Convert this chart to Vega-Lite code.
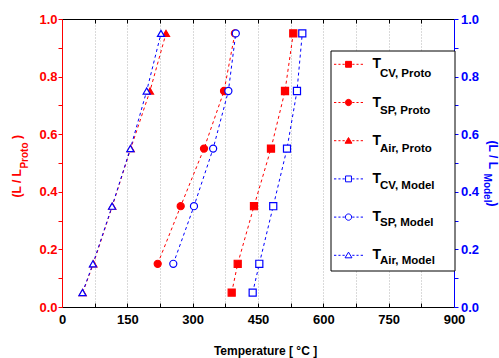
{
  "$schema": "https://vega.github.io/schema/vega-lite/v6.json",
  "width": 392,
  "height": 288,
  "autosize": {"type": "none"},
  "padding": {"left": 62, "top": 19, "right": 45, "bottom": 51},
  "background": "white",
  "config": {
    "view": {"stroke": null},
    "font": "Liberation Sans",
    "axis": {"labelFont": "Liberation Sans", "titleFont": "Liberation Sans"},
    "legend": {"labelFont": "Liberation Sans", "titleFont": "Liberation Sans"}
  },
  "data": {
    "values": [
      {"series": "CV, Proto", "ref": "Proto", "T": 389.6, "L": 0.05},
      {"series": "CV, Proto", "ref": "Proto", "T": 403.4, "L": 0.15},
      {"series": "CV, Proto", "ref": "Proto", "T": 440.8, "L": 0.35},
      {"series": "CV, Proto", "ref": "Proto", "T": 479.8, "L": 0.55},
      {"series": "CV, Proto", "ref": "Proto", "T": 512, "L": 0.75},
      {"series": "CV, Proto", "ref": "Proto", "T": 531, "L": 0.95},
      {"series": "SP, Proto", "ref": "Proto", "T": 219.7, "L": 0.15},
      {"series": "SP, Proto", "ref": "Proto", "T": 272.5, "L": 0.35},
      {"series": "SP, Proto", "ref": "Proto", "T": 326, "L": 0.55},
      {"series": "SP, Proto", "ref": "Proto", "T": 372, "L": 0.75},
      {"series": "SP, Proto", "ref": "Proto", "T": 397, "L": 0.95},
      {"series": "Air, Proto", "ref": "Proto", "T": 47.5, "L": 0.05},
      {"series": "Air, Proto", "ref": "Proto", "T": 72, "L": 0.15},
      {"series": "Air, Proto", "ref": "Proto", "T": 115.5, "L": 0.35},
      {"series": "Air, Proto", "ref": "Proto", "T": 157.7, "L": 0.55},
      {"series": "Air, Proto", "ref": "Proto", "T": 202, "L": 0.75},
      {"series": "Air, Proto", "ref": "Proto", "T": 238.8, "L": 0.95},
      {"series": "CV, Model", "ref": "Model", "T": 437.8, "L": 0.05},
      {"series": "CV, Model", "ref": "Model", "T": 453, "L": 0.15},
      {"series": "CV, Model", "ref": "Model", "T": 485, "L": 0.35},
      {"series": "CV, Model", "ref": "Model", "T": 516.6, "L": 0.55},
      {"series": "CV, Model", "ref": "Model", "T": 539.5, "L": 0.75},
      {"series": "CV, Model", "ref": "Model", "T": 551.7, "L": 0.95},
      {"series": "SP, Model", "ref": "Model", "T": 255.5, "L": 0.15},
      {"series": "SP, Model", "ref": "Model", "T": 303, "L": 0.35},
      {"series": "SP, Model", "ref": "Model", "T": 347, "L": 0.55},
      {"series": "SP, Model", "ref": "Model", "T": 382, "L": 0.75},
      {"series": "SP, Model", "ref": "Model", "T": 399, "L": 0.95},
      {"series": "Air, Model", "ref": "Model", "T": 47, "L": 0.05},
      {"series": "Air, Model", "ref": "Model", "T": 71, "L": 0.15},
      {"series": "Air, Model", "ref": "Model", "T": 115, "L": 0.35},
      {"series": "Air, Model", "ref": "Model", "T": 157, "L": 0.55},
      {"series": "Air, Model", "ref": "Model", "T": 194.4, "L": 0.75},
      {"series": "Air, Model", "ref": "Model", "T": 227.3, "L": 0.95}
    ]
  },
  "layer": [
    {
      "transform": [{"filter": "datum.ref == 'Proto'"}],
      "encoding": {
        "x": {
          "field": "T", "type": "quantitative",
          "scale": {"domain": [0, 900], "nice": false},
          "axis": {
            "orient": "bottom",
            "values": [0, 75, 150, 225, 300, 375, 450, 525, 600, 675, 750, 825, 900],
            "labelExpr": "datum.value % 150 == 0 ? datum.label : ''",
            "labelFlush": false, "labelOverlap": false,
            "labelFontSize": 13, "labelFontWeight": "bold", "labelColor": "#000000",
            "labelPadding": 10,
            "tickSize": -4, "tickColor": "#000000", "tickWidth": 1,
            "domainColor": "#000000", "domainWidth": 1,
            "grid": true, "gridColor": "#b4b4b4", "gridDash": [1, 2], "gridWidth": 1,
            "title": "Temperature [ °C ]",
            "titleFontSize": 12, "titleFontWeight": "bold", "titleColor": "#000000",
            "titleX": 203, "titleY": 47, "titleAlign": "center", "titleBaseline": "alphabetic", "titleAngle": 0
          }
        },
        "y": {
          "field": "L", "type": "quantitative",
          "scale": {"domain": [0, 1], "nice": false},
          "axis": {
            "orient": "left",
            "values": [0, 0.1, 0.2, 0.3, 0.4, 0.5, 0.6, 0.7, 0.8, 0.9, 1],
            "labelExpr": "round(datum.value * 10) % 2 == 0 ? format(datum.value, '.1f') : ''",
            "labelFlush": false, "labelOverlap": false,
            "labelFontSize": 13, "labelFontWeight": "bold", "labelColor": "#ff0000",
            "labelPadding": 1,
            "tickSize": 4, "tickColor": "#ff0000",
            "domainColor": "#ff0000", "domainWidth": 1,
            "grid": false,
            "title": "(L / L\u00a0\u00a0\u00a0\u00a0\u00a0\u00a0\u00a0\u00a0\u00a0)",
            "titleFontSize": 12, "titleFontWeight": "bold", "titleColor": "#ff0000",
            "titleAngle": 270, "titleX": -41.3, "titleY": 146.8, "titleAlign": "center", "titleBaseline": "alphabetic"
          }
        },
        "color": {
          "field": "series", "type": "nominal",
          "scale": {
            "domain": ["CV, Proto", "SP, Proto", "Air, Proto", "CV, Model", "SP, Model", "Air, Model"],
            "range": ["#ff0000", "#ff0000", "#ff0000", "#0000ff", "#0000ff", "#0000ff"]
          },
          "legend": null
        }
      },
      "layer": [
        {"mark": {"type": "line", "strokeDash": [3, 3], "strokeWidth": 1}, "encoding": {"order": {"field": "L", "type": "quantitative"}}},
        {
          "mark": {"type": "point", "size": 50, "strokeWidth": 1.2, "opacity": 1},
          "encoding": {
            "shape": {
              "field": "series", "type": "nominal",
              "scale": {
                "domain": ["CV, Proto", "SP, Proto", "Air, Proto", "CV, Model", "SP, Model", "Air, Model"],
                "range": ["square", "circle", "triangle-up", "square", "circle", "triangle-up"]
              },
              "legend": null
            },
            "fill": {
              "field": "series", "type": "nominal",
              "scale": {
                "domain": ["CV, Proto", "SP, Proto", "Air, Proto", "CV, Model", "SP, Model", "Air, Model"],
                "range": ["#ff0000", "#ff0000", "#ff0000", "#ffffff", "#ffffff", "#ffffff"]
              },
              "legend": null
            }
          }
        }
      ]
    },
    {
      "transform": [{"filter": "datum.ref == 'Model'"}],
      "encoding": {
        "x": {
          "field": "T", "type": "quantitative",
          "scale": {"domain": [0, 900], "nice": false},
          "axis": {
            "orient": "top",
            "values": [0, 75, 150, 225, 300, 375, 450, 525, 600, 675, 750, 825, 900],
            "labels": false,
            "tickSize": -4, "tickColor": "#000000", "tickWidth": 1,
            "domainColor": "#000000", "domainWidth": 1,
            "grid": false,
            "title": "Proto",
            "titleFontSize": 10, "titleFontWeight": "bold", "titleColor": "#ff0000",
            "titleAngle": 270, "titleX": -35, "titleY": 136, "titleAlign": "center", "titleBaseline": "alphabetic"
          }
        },
        "y": {
          "field": "L", "type": "quantitative",
          "scale": {"domain": [0, 1], "nice": false},
          "axis": {
            "orient": "right",
            "values": [0, 0.1, 0.2, 0.3, 0.4, 0.5, 0.6, 0.7, 0.8, 0.9, 1],
            "labelExpr": "round(datum.value * 10) % 2 == 0 ? format(datum.value, '.1f') : ''",
            "labelFlush": false, "labelOverlap": false,
            "labelFontSize": 13, "labelFontWeight": "bold", "labelColor": "#0000ff",
            "labelPadding": 2.5,
            "tickSize": 4, "tickColor": "#0000ff",
            "domainColor": "#0000ff", "domainWidth": 1,
            "grid": false,
            "title": "(L / L\u00a0\u00a0\u00a0\u00a0\u00a0\u00a0\u00a0\u00a0\u00a0\u00a0)",
            "titleFontSize": 12, "titleFontWeight": "bold", "titleColor": "#0000ff",
            "titleAngle": 90, "titleX": 34, "titleY": 154, "titleAlign": "center", "titleBaseline": "alphabetic"
          }
        },
        "color": {
          "field": "series", "type": "nominal",
          "scale": {
            "domain": ["CV, Proto", "SP, Proto", "Air, Proto", "CV, Model", "SP, Model", "Air, Model"],
            "range": ["#ff0000", "#ff0000", "#ff0000", "#0000ff", "#0000ff", "#0000ff"]
          },
          "legend": null
        }
      },
      "layer": [
        {"mark": {"type": "line", "strokeDash": [3, 3], "strokeWidth": 1}, "encoding": {"order": {"field": "L", "type": "quantitative"}}},
        {
          "mark": {"type": "point", "size": 50, "strokeWidth": 1.2, "opacity": 1},
          "encoding": {
            "shape": {
              "field": "series", "type": "nominal",
              "scale": {
                "domain": ["CV, Proto", "SP, Proto", "Air, Proto", "CV, Model", "SP, Model", "Air, Model"],
                "range": ["square", "circle", "triangle-up", "square", "circle", "triangle-up"]
              },
              "legend": null
            },
            "fill": {
              "field": "series", "type": "nominal",
              "scale": {
                "domain": ["CV, Proto", "SP, Proto", "Air, Proto", "CV, Model", "SP, Model", "Air, Model"],
                "range": ["#ff0000", "#ff0000", "#ff0000", "#ffffff", "#ffffff", "#ffffff"]
              },
              "legend": null
            }
          }
        }
      ]
    },
    {
      "mark": {"type": "point", "size": 1, "opacity": 0},
      "encoding": {
        "shape": {
          "field": "series", "type": "nominal",
          "scale": {
            "domain": ["CV, Proto", "SP, Proto", "Air, Proto", "CV, Model", "SP, Model", "Air, Model"],
            "range": [
              "M-1.4,-0.9M9.59,0.9M-1.38,0H-1.16M-0.96,0H-0.76M-0.57,0H-0.36M0.36,0H0.57M0.76,0H0.96M1.16,0H1.38M-0.28,-0.28H0.28V0.28H-0.28Z",
              "M-1.4,-0.9M9.59,0.9M-1.38,0H-1.16M-0.96,0H-0.76M-0.57,0H-0.36M0.36,0H0.57M0.76,0H0.96M1.16,0H1.38M0.3,0A0.3,0.3,0,1,1,-0.3,0A0.3,0.3,0,1,1,0.3,0Z",
              "M-1.4,-0.9M9.59,0.9M-1.38,0H-1.16M-0.96,0H-0.76M-0.57,0H-0.36M0.36,0H0.57M0.76,0H0.96M1.16,0H1.38M0,-0.3L0.33,0.24H-0.33Z",
              "M-1.4,-0.9M9.59,0.9M-1.38,0H-1.16M-0.96,0H-0.76M-0.57,0H-0.36M0.36,0H0.57M0.76,0H0.96M1.16,0H1.38M-0.28,-0.28H0.28V0.28H-0.28Z",
              "M-1.4,-0.9M9.59,0.9M-1.38,0H-1.16M-0.96,0H-0.76M-0.57,0H-0.36M0.36,0H0.57M0.76,0H0.96M1.16,0H1.38M0.3,0A0.3,0.3,0,1,1,-0.3,0A0.3,0.3,0,1,1,0.3,0Z",
              "M-1.4,-0.9M9.59,0.9M-1.38,0H-1.16M-0.96,0H-0.76M-0.57,0H-0.36M0.36,0H0.57M0.76,0H0.96M1.16,0H1.38M0,-0.3L0.33,0.24H-0.33Z"
            ]
          },
          "legend": {
            "title": null, "orient": "none", "legendX": 268.5, "legendY": 31.5,
            "padding": 2.8, "strokeColor": "#000000", "fillColor": "#ffffff",
            "symbolSize": 441, "symbolStrokeWidth": 1, "symbolOffset": 4.2, "symbolOpacity": 1,
            "labelOffset": 13.1, "rowPadding": 14.2,
            "labelFontSize": 14, "labelFontWeight": "bold", "labelColor": "#000000", "labelLimit": 200,
            "labelExpr": "'T'"
          }
        },
        "fill": {
          "field": "series", "type": "nominal",
          "scale": {
            "domain": ["CV, Proto", "SP, Proto", "Air, Proto", "CV, Model", "SP, Model", "Air, Model"],
            "range": ["#ff0000", "#ff0000", "#ff0000", "#ffffff", "#ffffff", "#ffffff"]
          },
          "legend": {"title": null}
        },
        "stroke": {
          "field": "series", "type": "nominal",
          "scale": {
            "domain": ["CV, Proto", "SP, Proto", "Air, Proto", "CV, Model", "SP, Model", "Air, Model"],
            "range": ["#ff0000", "#ff0000", "#ff0000", "#0000ff", "#0000ff", "#0000ff"]
          },
          "legend": {"title": null}
        }
      }
    },
    {
      "mark": {"type": "point", "size": 1, "opacity": 0},
      "encoding": {
        "x": {
          "field": "T", "type": "quantitative",
          "scale": {"domain": [0, 900], "nice": false},
          "axis": {
            "orient": "bottom",
            "domain": false, "ticks": false, "labels": false, "grid": false,
            "title": "Model",
            "titleFontSize": 10, "titleFontWeight": "bold", "titleColor": "#0000ff",
            "titleAngle": 90, "titleX": 421, "titleY": -119.5, "titleAlign": "center", "titleBaseline": "alphabetic"
          }
        },
        "strokeDash": {
          "field": "series", "type": "nominal",
          "scale": {
            "domain": ["SP, Proto", "CV, Proto", "Air, Proto", "SP, Model", "CV, Model", "Air, Model"],
            "range": [[1, 0], [1, 0], [1, 0], [1, 0], [1, 0], [1, 0]]
          },
          "legend": {
            "title": null, "orient": "none", "legendX": 306.5, "legendY": 49,
            "values": ["CV, Proto", "SP, Proto", "Air, Proto", "CV, Model", "SP, Model", "Air, Model"],
            "padding": 0, "symbolSize": 1, "symbolStrokeWidth": 0, "symbolOpacity": 0,
            "labelOffset": 0, "rowPadding": 24.4,
            "labelFontSize": 11.5, "labelFontWeight": "bold", "labelColor": "#000000", "labelLimit": 200
          }
        }
      }
    }
  ],
  "resolve": {
    "scale": {"y": "independent", "shape": "independent", "fill": "independent", "stroke": "independent", "strokeDash": "independent"},
    "axis": {"x": "independent", "y": "independent"}
  }
}
